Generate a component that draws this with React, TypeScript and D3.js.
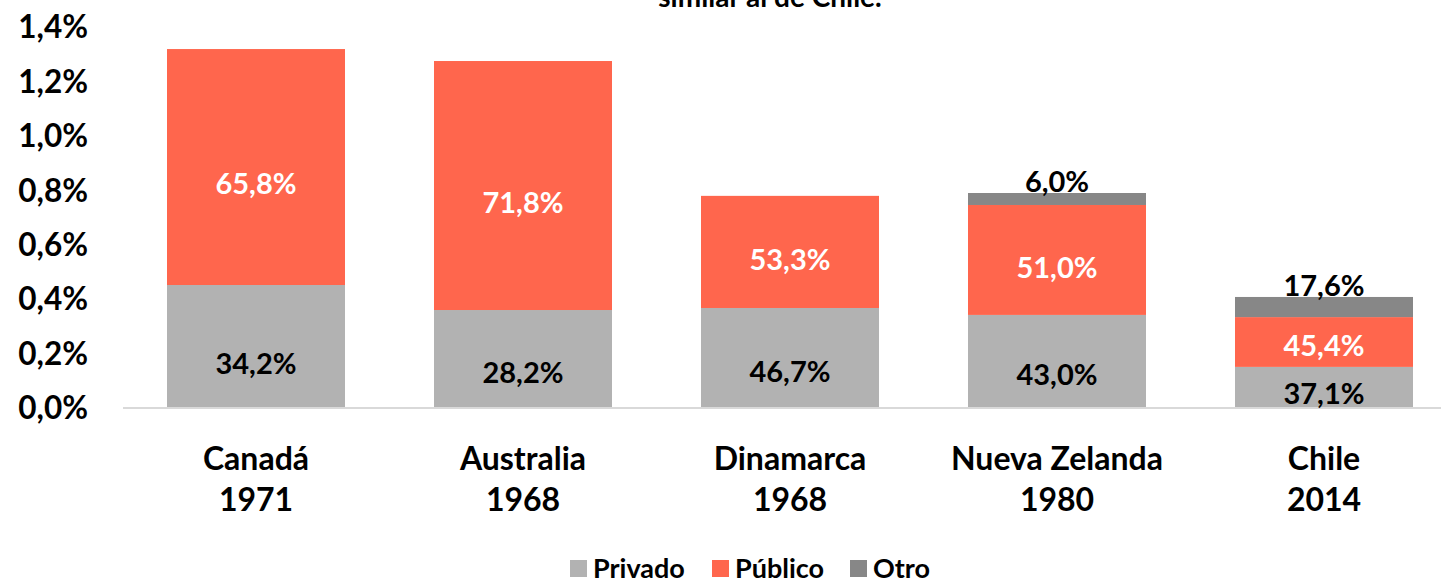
import React from "react";
import * as d3 from "d3";

const categories = ["Canadá|1971", "Australia|1968", "Dinamarca|1968", "Nueva Zelanda|1980", "Chile|2014"];
const privado = [0.452, 0.360, 0.3675, 0.342, 0.151];
const publico = [0.867, 0.915, 0.412, 0.404, 0.183];
const otro = [0, 0, 0, 0.044, 0.074];
const privadoLabels = ["34,2%", "28,2%", "46,7%", "43,0%", "37,1%"];
const publicoLabels = ["65,8%", "71,8%", "53,3%", "51,0%", "45,4%"];
const otroLabels = ["", "", "", "6,0%", "17,6%"];
const yTicks = [0, 0.2, 0.4, 0.6, 0.8, 1.0, 1.2, 1.4];
const seriesNames = ["Privado", "Público", "Otro"];
const colors = ["#B2B2B2", "#FF664D", "#878787"];
const titleLine = "similar al de Chile.";

const W = 1441;
const H = 580;
const FONT = "Lato, 'Open Sans', sans-serif";

export default function App() {
  const x = d3
    .scaleBand<string>()
    .domain(categories)
    .range([122.5, 1457.5])
    .paddingInner(1 / 3)
    .paddingOuter(1 / 6);
  const y = d3.scaleLinear().domain([0, 1.4]).range([408, 27]);

  const rows = categories.map((c, i) => ({ cat: c, Privado: privado[i], Público: publico[i], Otro: otro[i] }));
  const stack = d3.stack<any>().keys(seriesNames)(rows);
  const labelSets = [privadoLabels, publicoLabels, otroLabels];
  const labelFrac = [0.64, 0.57];
  const fmt = (v: number) => d3.format(".1f")(v).replace(".", ",") + "%";

  const legendX = [570, 712, 850];

  return (
    <svg
      width={W}
      height={H}
      style={{ position: "absolute", left: 0, top: 0, background: "#fff" }}
      fontFamily={FONT}
      fontWeight="bold"
    >
      <text x={770} y={7} textAnchor="middle" fontSize={28} fill="#000">
        {titleLine}
      </text>

      {yTicks.map((t) => (
        <text key={t} x={88} y={y(t)} dy="0.36em" textAnchor="end" fontSize={31.5} fill="#000">
          {fmt(t)}
        </text>
      ))}

      {stack.map((s, si) =>
        s.map((d, i) => {
          const h = y(d[0]) - y(d[1]);
          if (h <= 0) return null;
          return (
            <rect
              key={si + "-" + i}
              x={x(categories[i])}
              y={y(d[1])}
              width={x.bandwidth()}
              height={h}
              fill={colors[si]}
            />
          );
        })
      )}

      <line x1={123} x2={W} y1={408} y2={408} stroke="#D9D9D9" strokeWidth={2} />

      {stack.map((s, si) =>
        s.map((d, i) => {
          const lab = labelSets[si][i];
          if (!lab) return null;
          const cx = (x(categories[i]) as number) + x.bandwidth() / 2;
          let cy: number;
          if (si === 2) cy = y(d[1]) - 11;
          else cy = y(d[1]) + labelFrac[si] * (y(d[0]) - y(d[1]));
          return (
            <text
              key={"l" + si + "-" + i}
              x={cx}
              y={cy}
              dy="0.36em"
              textAnchor="middle"
              fontSize={29}
              fill={si === 1 ? "#fff" : "#000"}
            >
              {lab}
            </text>
          );
        })
      )}

      {categories.map((c) => {
        const [l1, l2] = c.split("|");
        const cx = (x(c) as number) + x.bandwidth() / 2;
        return (
          <text key={c} x={cx} textAnchor="middle" fontSize={32} fill="#000">
            <tspan x={cx} y={470}>
              {l1}
            </tspan>
            <tspan x={cx} y={511}>
              {l2}
            </tspan>
          </text>
        );
      })}

      {seriesNames.map((n, i) => (
        <g key={n}>
          <rect x={legendX[i]} y={560} width={17} height={17} fill={colors[i]} />
          <text x={legendX[i] + 23} y={578} fontSize={27} fill="#000">
            {n}
          </text>
        </g>
      ))}
    </svg>
  );
}
